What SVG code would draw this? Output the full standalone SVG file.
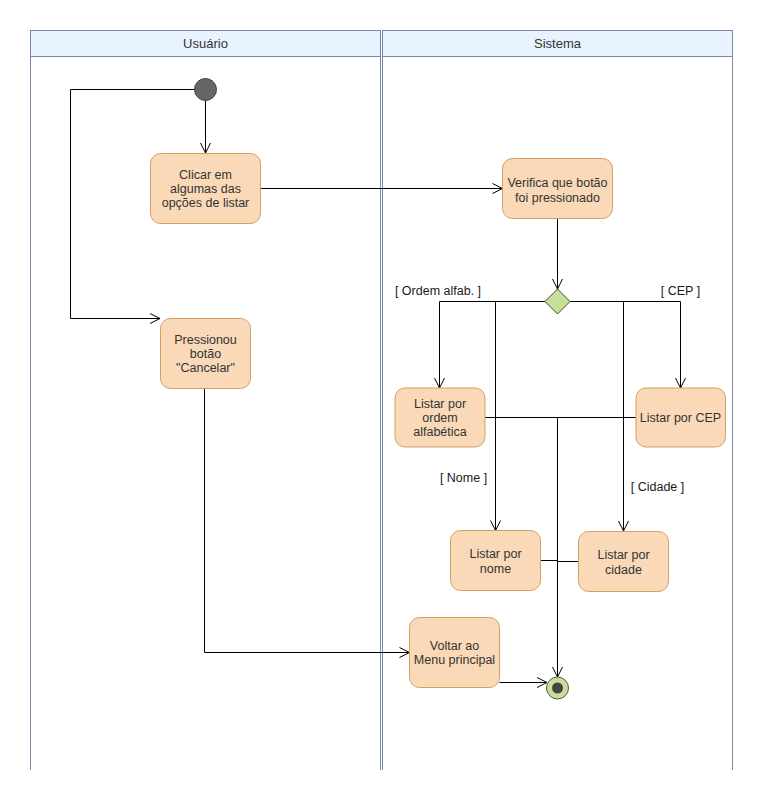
<svg xmlns="http://www.w3.org/2000/svg" width="762" height="800" viewBox="0 0 762 800">
<defs>
<style>
.lane{fill:#ffffff;stroke:#788aa3;stroke-width:1}
.hdr{fill:#e8f3ff;stroke:#788aa3;stroke-width:1}
.ht{font-family:"Liberation Sans",Arial,sans-serif;font-size:13px;fill:#333333;text-anchor:middle}
.node{fill:#fad9b9;stroke:#d69e62;stroke-width:1}
.nt{font-family:"Liberation Sans",Arial,sans-serif;font-size:12.5px;fill:#333333;text-anchor:middle}
.lbl{font-family:"Liberation Sans",Arial,sans-serif;font-size:12.5px;fill:#1a1a1a;text-anchor:middle}
.edge{fill:none;stroke:#000000;stroke-width:1}
</style>
<marker id="arr" viewBox="0 0 12 12" refX="11" refY="6" markerWidth="12" markerHeight="12" markerUnits="userSpaceOnUse" orient="auto">
<path d="M1,1 L11,6 L1,11" fill="none" stroke="#000000" stroke-width="1"/>
</marker>
</defs>
<rect x="0" y="0" width="762" height="800" fill="#ffffff"/>
<g id="lane-usuario">
<path class="lane" d="M30.5,770 V30.5 H380.5 V770"/>
<rect class="hdr" x="30.5" y="30.5" width="350" height="26"/>
<text class="ht" x="205.5" y="48">Usuário</text>
</g>
<g id="lane-sistema">
<path class="lane" d="M382.5,770 V30.5 H732.5 V770"/>
<rect class="hdr" x="382.5" y="30.5" width="350" height="26"/>
<text class="ht" x="557.5" y="48">Sistema</text>
</g>
<g id="connectors">
<path class="edge" d="M205.5,100 V153" marker-end="url(#arr)"/>
<path class="edge" d="M194.5,89.5 H70.5 V318.5 H160" marker-end="url(#arr)"/>
<path class="edge" d="M260.5,188.5 H502.5" marker-end="url(#arr)"/>
<path class="edge" d="M557.5,218.5 V289" marker-end="url(#arr)"/>
<path class="edge" d="M545,301.5 H439.5 V388" marker-end="url(#arr)"/>
<path class="edge" d="M545,301.5 H495.5 V530.5" marker-end="url(#arr)"/>
<path class="edge" d="M570,301.5 H680.5 V388" marker-end="url(#arr)"/>
<path class="edge" d="M570,301.5 H623.5 V531" marker-end="url(#arr)"/>
<path class="edge" d="M485,417.5 H557.5 V677" marker-end="url(#arr)"/>
<path class="edge" d="M636,417.5 H557.5"/>
<path class="edge" d="M540.5,560.5 H557.5"/>
<path class="edge" d="M578.5,561.5 H557.5"/>
<path class="edge" d="M204.5,388.5 V652.5 H409.5" marker-end="url(#arr)"/>
<path class="edge" d="M499.5,682.5 H547" marker-end="url(#arr)"/>
<text class="lbl" x="438" y="295">[ Ordem alfab. ]</text>
<text class="lbl" x="680.5" y="295">[ CEP ]</text>
<text class="lbl" x="463.5" y="482">[ Nome ]</text>
<text class="lbl" x="657.5" y="491">[ Cidade ]</text>
</g>
<g id="start">
<circle cx="205.5" cy="89.5" r="11" fill="#666666" stroke="#444444" stroke-width="1"/>
</g>
<g id="clicar">
<rect class="node" x="150.5" y="153.5" width="110" height="70" rx="10"/>
<text class="nt" x="205.5" y="178.6">Clicar em<tspan x="205.5" dy="14.4">algumas das</tspan><tspan x="205.5" dy="14.4">opções de listar</tspan></text>
</g>
<g id="pressionou">
<rect class="node" x="160.5" y="318.5" width="90" height="70" rx="10"/>
<text class="nt" x="205.5" y="343.6">Pressionou<tspan x="205.5" dy="14.4">botão</tspan><tspan x="205.5" dy="14.4">"Cancelar"</tspan></text>
</g>
<g id="verifica">
<rect class="node" x="502.5" y="158.5" width="110" height="60" rx="10"/>
<text class="nt" x="557.5" y="187.3">Verifica que botão<tspan x="557.5" dy="14.4">foi pressionado</tspan></text>
</g>
<g id="decisao">
<path d="M557.5,289 L570,301.5 L557.5,314 L545,301.5 Z" fill="#c8df9a" stroke="#3c4a2a" stroke-width="1"/>
</g>
<g id="ordem">
<rect class="node" x="395" y="388" width="90" height="59" rx="10"/>
<text class="nt" x="440" y="407.6">Listar por<tspan x="440" dy="14.4">ordem</tspan><tspan x="440" dy="14.4">alfabética</tspan></text>
</g>
<g id="cep">
<rect class="node" x="636" y="388" width="89.5" height="59" rx="10"/>
<text class="nt" x="680.5" y="422">Listar por CEP</text>
</g>
<g id="nome">
<rect class="node" x="450.5" y="530.5" width="90" height="60" rx="10"/>
<text class="nt" x="495.5" y="558.3">Listar por<tspan x="495.5" dy="14.4">nome</tspan></text>
</g>
<g id="cidade">
<rect class="node" x="578.5" y="531.5" width="90" height="60" rx="10"/>
<text class="nt" x="623.5" y="559.3">Listar por<tspan x="623.5" dy="14.4">cidade</tspan></text>
</g>
<g id="voltar">
<rect class="node" x="409.5" y="617.5" width="90" height="70" rx="10"/>
<text class="nt" x="454.5" y="650">Voltar ao<tspan x="454.5" dy="14.4">Menu principal</tspan></text>
</g>
<g id="fim">
<circle cx="557.5" cy="688" r="11" fill="#c8df9a" stroke="#555555" stroke-width="1"/>
<circle cx="557.5" cy="688" r="5.5" fill="#444444"/>
</g>
</svg>
